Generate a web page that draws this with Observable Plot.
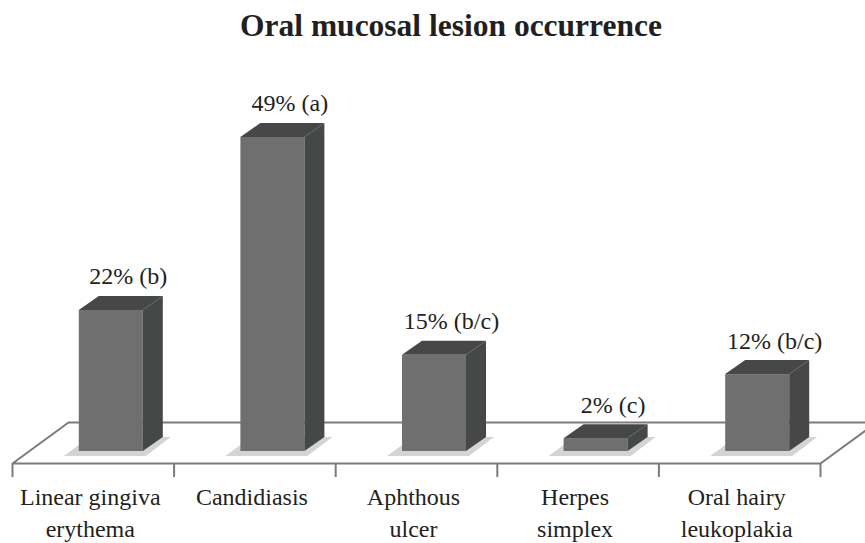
<!DOCTYPE html>
<html>
<head>
<meta charset="utf-8">
<script src="https://cdn.jsdelivr.net/npm/d3@7"></script>
<script src="https://cdn.jsdelivr.net/npm/@observablehq/plot@0.6"></script>
<style>
  html, body { margin: 0; padding: 0; background: #fff; overflow: hidden; }
  #wrap { position: relative; width: 865px; height: 543px; }
  #title { position: absolute; left: 37px; top: 10px; width: 828px; text-align: center;
           font-family: "Liberation Serif", serif; font-weight: bold; font-size: 31.5px;
           line-height: 31px; color: #231f20; }
  #chart { position: absolute; left: 0; top: 50px; }
</style>
</head>
<body>
<div id="wrap">
  <div id="title">Oral mucosal lesion occurrence</div>
  <div id="chart"></div>
</div>
<script>
// ---- data ----
const categories = ["Linear gingiva\nerythema", "Candidiasis", "Aphthous\nulcer", "Herpes\nsimplex", "Oral hairy\nleukoplakia"];
const values = [22, 49, 15, 2, 12];
const valueLabels = ["22% (b)", "49% (a)", "15% (b/c)", "2% (c)", "12% (b/c)"];

// ---- style / geometry constants ----
const FRONT = "#6f6f6f", SIDE = "#464848", SHADOW = "#d4d4d4", FLOOR = "#7b7b7b", TEXT = "#231f20";
const FONT = "Liberation Serif, Times New Roman, serif";
const xDomain = [-0.5, 4.5], xRange = [12, 820];
const yDomain = [0, 50], yRange = [401, 80.5];
const kx = (xRange[1] - xRange[0]) / (xDomain[1] - xDomain[0]);   // px per category unit
const ky = (yRange[0] - yRange[1]) / (yDomain[1] - yDomain[0]);   // px per percent
const px = p => p / kx;   // pixel offset -> x units
const pv = p => p / ky;   // pixel offset (upwards) -> y units
const DX = 20, DY = 14;   // 3D depth offset of bars (px)
const LH = 1.3;           // category label line height

const bars = categories.map((c, i) => ({
  i, c, v: values[i], label: valueLabels[i],
  x1: i + px(-14), x2: i + px(50)
}));

const sidePts = bars.flatMap(b => [
  {z: b.i, x: b.x2, y1: 0, y2: b.v},
  {z: b.i, x: b.x2 + px(DX), y1: pv(DY), y2: b.v + pv(DY)}
]);
const topPts = bars.flatMap(b => [
  {z: b.i, y: b.v, x1: b.x1, x2: b.x2},
  {z: b.i, y: b.v + pv(DY), x1: b.x1 + px(DX), x2: b.x2 + px(DX)}
]);
const shadowPts = bars.flatMap(b => [
  {z: b.i, y: pv(-5), x1: b.x1 + px(-15), x2: b.x2 + px(3)},
  {z: b.i, y: pv(14), x1: b.x1 + px(11), x2: b.x2 + px(28)}
]);

const floorPts = [
  {x: xDomain[0], y: pv(-12)},
  {x: xDomain[0] + px(56), y: pv(29)},
  {x: xDomain[1] + px(56), y: pv(29)},
  {x: xDomain[1], y: pv(-12)},
  {x: xDomain[0], y: pv(-12)}
];
const tickPos = d3.range(categories.length + 1).map(k => k - 0.5);

const chart = Plot.plot({
  width: 865,
  height: 493,
  x: {type: "linear", domain: xDomain, range: xRange, axis: null},
  y: {type: "linear", domain: yDomain, range: yRange, axis: null},
  marks: [
    Plot.line(floorPts, {x: "x", y: "y", stroke: FLOOR, strokeWidth: 2, strokeLinejoin: "miter", strokeLinecap: "butt"}),
    Plot.ruleX(tickPos, {x: d => d, y1: pv(-12), y2: pv(-26), stroke: FLOOR, strokeWidth: 2}),
    Plot.areaX(shadowPts, {y: "y", x1: "x1", x2: "x2", z: "z", fill: SHADOW}),
    Plot.rect(bars, {x1: "x1", x2: "x2", y1: 0, y2: "v", fill: FRONT}),
    Plot.areaY(sidePts, {x: "x", y1: "y1", y2: "y2", z: "z", fill: SIDE}),
    Plot.areaX(topPts, {y: "y", x1: "x1", x2: "x2", z: "z", fill: SIDE}),
    Plot.text(bars, {x: d => d.i + px(35), y: "v", text: "label", dy: -26, lineAnchor: "bottom",
      fontSize: 24, fontFamily: FONT, fill: TEXT}),
    Plot.text(bars, {x: d => d.i + px(-3), y: pv(-(505 - 451 - 0.71 * LH * 24)), text: "c",
      lineAnchor: "top", lineHeight: LH, fontSize: 24, fontFamily: FONT, fill: TEXT})
  ]
});
document.getElementById("chart").appendChild(chart);
</script>
</body>
</html>
